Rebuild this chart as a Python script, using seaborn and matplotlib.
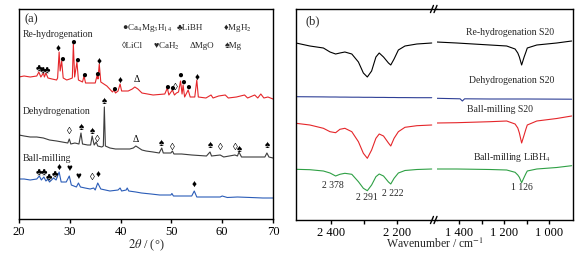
import matplotlib.pyplot as plt
import seaborn as sns
from matplotlib.ticker import FixedLocator, NullLocator

# ---- (a) XRD traces: 2theta / intensity (arb. units) ----
red_x = [20.0, 21.0, 22.2, 23.5, 23.9, 24.3, 24.8, 25.0, 25.3, 25.7, 26.5, 27.4, 27.6, 27.9, 28.1, 28.4,
         28.7, 29.4, 30.0, 30.5, 30.7, 30.95, 31.4, 31.7, 32.5, 32.8, 33.1, 34.2, 35.0, 35.4, 35.55, 35.8,
         36.1, 37.3, 38.4, 38.7, 39.0, 39.5, 39.9, 40.2, 41.5, 42.3, 42.8, 43.4, 44.2, 46.4, 48.7, 49.2,
         49.5, 50.2, 50.6, 51.0, 51.4, 51.8, 52.1, 52.3, 52.6, 53.3, 53.7, 54.6, 55.0, 55.3, 56.8, 57.8,
         58.2, 59.3, 60.6, 61.2, 62.8, 64.4, 65.0, 66.4, 67.0, 67.6, 68.2, 69.0, 70.0]
red_y = [142, 143, 142, 143, 147, 142, 146, 142, 146, 141, 140, 139, 141, 167, 148, 158,
         141, 139, 140, 141, 175, 142, 157, 139, 137, 143, 136, 136, 136, 144, 140, 155,
         137, 133, 127, 129, 126, 128, 135, 128, 128, 130, 132, 130, 126, 124, 125, 131,
         124, 129, 124, 126, 127, 138, 125, 134, 122, 129, 122, 122, 139, 122, 121, 124,
         121, 123, 124, 121, 122, 124, 121, 124, 121, 125, 121, 122, 120]

gray_x = [20.0, 21.0, 22.2, 23.5, 24.8, 26.0, 27.4, 28.5, 29.6, 29.9, 30.2, 31.0, 31.8, 32.2, 32.5, 33.5,
          34.1, 34.4, 34.8, 35.2, 35.5, 36.3, 36.6, 36.8, 37.0, 37.9, 39.0, 40.5, 41.8, 42.5, 43.0, 43.6,
          44.2, 45.0, 46.4, 47.6, 48.1, 48.4, 49.9, 50.2, 50.5, 52.0, 54.0, 56.9, 57.6, 57.9, 59.6, 60.3,
          62.5, 63.0, 63.3, 63.8, 65.5, 67.0, 68.4, 68.8, 69.2, 70.0]
gray_y = [84, 83, 82, 82, 81, 79, 78, 77, 76, 80, 75, 76, 75, 86, 75, 74,
          74, 83, 74, 77, 73, 72, 73, 112, 73, 71, 70, 70, 70, 71, 73, 71,
          69, 68, 67, 66, 71, 66, 66, 68, 65, 65, 64, 63, 67, 63, 64, 62,
          64, 63, 67, 62, 62, 62, 62, 66, 62, 61]

blue_x = [20.0, 21.0, 22.2, 23.5, 24.0, 24.4, 24.9, 25.3, 25.7, 26.0, 26.8, 27.3, 27.9, 28.3, 29.3, 29.9,
          30.3, 31.3, 31.7, 32.1, 33.0, 34.0, 34.7, 35.0, 35.5, 36.1, 37.0, 37.9, 39.5, 39.9, 40.2, 41.1,
          41.3, 41.6, 43.0, 44.1, 46.0, 47.7, 49.9, 50.1, 50.4, 52.0, 54.0, 54.5, 55.0, 57.0, 59.6, 60.0,
          61.0, 63.0, 65.6, 68.0, 70.0]
blue_y = [40, 40, 39, 40, 43, 39, 42, 38, 40, 37, 41, 39, 47, 37, 37, 43,
          34, 32, 36, 32, 31, 30, 31, 29, 36, 30, 29, 28, 29, 31, 28, 29,
          31, 28, 27, 26, 25, 24, 24, 25.5, 23, 23, 23, 28, 22, 22, 22, 23,
          21.5, 22, 21.5, 21, 21]

# phase markers: (symbol, 2theta, height)
red_marks = [("♣", 24.0, 150), ("♣", 24.8, 148), ("♣", 25.4, 148), ("♦", 27.8, 170), ("●", 28.5, 160),
             ("●", 30.7, 177), ("●", 31.4, 159), ("●", 32.8, 144), ("●", 35.4, 145), ("♦", 35.8, 157),
             ("●", 38.7, 130), ("♦", 39.9, 138), ("Δ", 43.2, 140), ("●", 49.2, 132), ("●", 50.2, 131),
             ("◊", 50.8, 131), ("●", 51.8, 144), ("●", 52.3, 137), ("●", 53.3, 132), ("♦", 55.0, 141)]
gray_marks = [("◊", 29.9, 88), ("♠", 32.2, 91), ("♠", 34.4, 88), ("◊", 35.4, 80), ("♠", 36.8, 117),
              ("Δ", 43.0, 80), ("♠", 48.1, 76), ("◊", 50.1, 72), ("♠", 57.7, 73), ("◊", 59.7, 72),
              ("◊", 62.5, 72), ("♠", 63.4, 70), ("♠", 68.8, 73)]
blue_marks = [("♣", 24.0, 46), ("♣", 25.0, 46), ("♣", 25.8, 41), ("♣", 27.1, 44), ("♦", 27.9, 51),
              ("♥", 29.9, 51), ("♥", 31.7, 43), ("◊", 34.5, 41), ("♦", 35.5, 44), ("♦", 54.5, 34)]

legend_row1 = ["●Ca$_4$Mg$_3$H$_{14}$", "♣LiBH", "♦MgH$_2$"]
legend_row2 = ["◊LiCl", "♥CaH$_2$", "ΔMgO", "♠Mg"]

# ---- (b) FTIR traces ----
left_wn = [2506, 2464, 2423, 2403, 2386, 2373, 2358, 2337, 2317, 2302, 2290,
           2277, 2264, 2254, 2241, 2226, 2219, 2209, 2196, 2176, 2140, 2095]
black_L = [177, 174, 172, 168, 166, 167, 168, 166, 158, 147, 143,
           149, 163, 167, 163, 157, 155, 161, 170, 174, 176, 177]
navy_L = [123.3, 123.2, 123.1, 123.0, 123.0, 122.9, 122.9, 122.8, 122.8, 122.7, 122.7,
          122.7, 122.6, 122.6, 122.6, 122.5, 122.5, 122.5, 122.4, 122.4, 122.3, 122.3]
red_L = [96.7, 95, 91.7, 88.3, 87.3, 90.7, 91.7, 88.3, 78.3, 66.7, 61.7,
         70, 81.7, 86, 84, 77, 74, 81.7, 88.3, 92.7, 94.3, 95]
green_L = [50.7, 50.3, 49, 47, 44, 45.7, 46.7, 45.7, 38.3, 31.7, 29.3,
           35, 43.3, 46, 44, 38, 36, 41.7, 47, 49.5, 50.5, 51]

right_wn = [1499, 1410, 1263, 1189, 1152, 1140, 1133, 1123, 1112, 1104, 1098, 1056, 968, 902]
black_R = [178, 177, 175, 174, 171, 167, 163, 155, 163, 168, 172, 175, 177, 179]
red_R = [97, 97.3, 98.3, 99, 96, 92, 87, 77, 85, 91, 95, 99, 101.5, 104]
green_R = [51, 51, 50.5, 50, 47.7, 45, 42.7, 37.3, 42.7, 46.5, 49, 51, 52.5, 54.3]
navy_R_wn = [1499, 1395, 1385, 1375, 1263, 1100, 902]
navy_R = [121.7, 121.2, 119, 121.2, 121, 121, 120.8]

peak_labels = [("2 378", 2394, 35), ("2 291", 2290, 22), ("2 222", 2212, 27)]
peak_label_R = ("1 126", 1121, 32)

sns.set_style("ticks")
plt.rcParams['font.family'] = ['Liberation Serif', 'DejaVu Sans']
plt.rcParams['mathtext.fontset'] = 'stix'
plt.rcParams['axes.edgecolor'] = 'black'
plt.rcParams['xtick.color'] = 'black'
plt.rcParams['axes.linewidth'] = 1.0

W, H = 581, 261
fig = plt.figure(figsize=(W / 100, H / 100), dpi=100)

c_red = '#e5262a'
c_gray = '#3c3c3c'
c_blue = '#2a5cb8'
c_navy = '#2e3f96'
c_green = '#2fa045'

# ---------------- panel (a) ----------------
ax = fig.add_axes([19 / W, 42 / H, 254 / W, 210 / H])
for xs, ys, col in [(red_x, red_y, c_red), (gray_x, gray_y, c_gray), (blue_x, blue_y, c_blue)]:
    sns.lineplot(x=xs, y=ys, ax=ax, color=col, lw=0.8, sort=False, estimator=None)
for marks in [red_marks, gray_marks, blue_marks]:
    for sym, mx, my in marks:
        ax.text(mx, my, sym, fontsize=7, ha='center', va='center', color='black')
ax.set_xlim(20, 70)
ax.set_ylim(0, 210)
ax.xaxis.set_major_locator(FixedLocator([20, 30, 40, 50, 60, 70]))
ax.yaxis.set_major_locator(NullLocator())
ax.tick_params(axis='x', direction='out', length=3, width=1.0, labelsize=9, pad=2)
ax.set_xlabel(r"$\mathit{2\theta}$ / (°)", fontsize=9, labelpad=0)
ax.text(0.02, 0.95, "(a)", transform=ax.transAxes, fontsize=9, va='center')
ax.text(0.016, 0.88, "Re-hydrogenation", transform=ax.transAxes, fontsize=7, va='center')
ax.text(0.016, 0.51, "Dehydrogenation", transform=ax.transAxes, fontsize=7, va='center')
ax.text(0.016, 0.286, "Ball-milling", transform=ax.transAxes, fontsize=7, va='center')
for lab, lx in zip(legend_row1, [0.405, 0.622, 0.803]):
    ax.text(lx, 0.91, lab, transform=ax.transAxes, fontsize=6.5, va='center')
for lab, lx in zip(legend_row2, [0.405, 0.528, 0.673, 0.811]):
    ax.text(lx, 0.824, lab, transform=ax.transAxes, fontsize=6.5, va='center')
sns.despine(ax=ax, top=False, right=False)

# ---------------- panel (b) ----------------
axL = fig.add_axes([296 / W, 41 / H, 141 / W, 211 / H])
axR = fig.add_axes([437 / W, 41 / H, 136 / W, 211 / H])
for ys, col in [(black_L, 'black'), (navy_L, c_navy), (red_L, c_red), (green_L, c_green)]:
    sns.lineplot(x=left_wn, y=ys, ax=axL, color=col, lw=0.8, sort=False, estimator=None)
for xs, ys, col in [(right_wn, black_R, 'black'), (navy_R_wn, navy_R, c_navy),
                    (right_wn, red_R, c_red), (right_wn, green_R, c_green)]:
    sns.lineplot(x=xs, y=ys, ax=axR, color=col, lw=0.8, sort=False, estimator=None)

axL.set_xlim(2506, 2079)
axR.set_xlim(1497, 896)
for a in (axL, axR):
    a.set_ylim(0, 211)
    a.yaxis.set_major_locator(NullLocator())
    a.tick_params(axis='x', which='both', direction='out', length=3, width=1.0, labelsize=9, pad=2)
axL.xaxis.set_major_locator(FixedLocator([2400, 2200]))
axL.xaxis.set_minor_locator(FixedLocator([2300]))
axL.set_xticklabels(["2 400", "2 200"])
axR.xaxis.set_major_locator(FixedLocator([1400, 1200, 1000]))
axR.xaxis.set_minor_locator(FixedLocator([1300, 1100]))
axR.set_xticklabels(["1 400", "1 200", "1 000"])
axL.spines['right'].set_visible(False)
axR.spines['left'].set_visible(False)
axR.tick_params(axis='y', left=False)

for lab, px, py in peak_labels:
    axL.text(px, py, lab, fontsize=7, ha='center', va='center')
axR.text(peak_label_R[1], peak_label_R[2], peak_label_R[0], fontsize=7, ha='center', va='center')
axL.text(0.07, 0.94, "(b)", transform=axL.transAxes, fontsize=9, va='center')
axR.text(0.537, 0.89, "Re-hydrogenation S20", transform=axR.transAxes, fontsize=7, ha='center', va='center')
axR.text(0.55, 0.663, "Dehydrogenation S20", transform=axR.transAxes, fontsize=7, ha='center', va='center')
axR.text(0.46, 0.526, "Ball-milling S20", transform=axR.transAxes, fontsize=7, ha='center', va='center')
axR.text(0.55, 0.294, "Ball-milling LiBH$_4$", transform=axR.transAxes, fontsize=7, ha='center', va='center')

# axis break marks
for yb in (0, 1):
    for xc in (-0.037, -0.011):
        axR.plot([xc - 0.011, xc + 0.011], [yb - 0.017, yb + 0.017], transform=axR.transAxes,
                 color='black', lw=1.0, clip_on=False)

fig.text(434.5 / W, 1 - 244 / H, "Wavenumber / cm$^{-1}$", fontsize=8.5, ha='center', va='center')

fig.savefig("out.png", dpi=100)
